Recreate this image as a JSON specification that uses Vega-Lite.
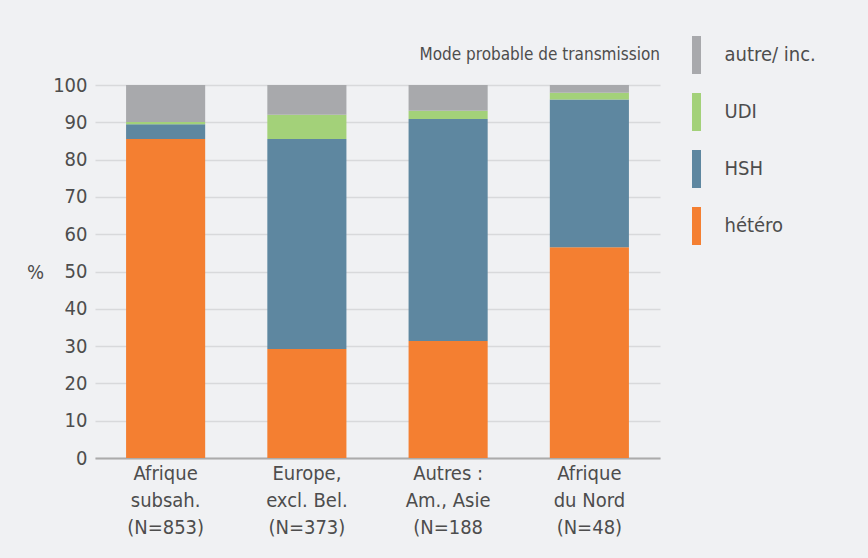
{
  "$schema": "https://vega.github.io/schema/vega-lite/v6.json",
  "autosize": "none",
  "width": 565,
  "height": 373,
  "padding": {"left": 95, "top": 85, "right": 208, "bottom": 100},
  "background": "#F0F1F3",
  "title": {
    "text": "Mode probable de transmission",
    "anchor": "end",
    "frame": "group",
    "baseline": "alphabetic",
    "offset": 23,
    "dy": 64,
    "fontSize": 17,
    "fontWeight": "normal",
    "font": "DejaVu Sans Condensed, sans-serif",
    "color": "#4d4d4d"
  },
  "data": {
    "values": [
      {"region": "Afrique|subsah.|(N=853)", "mode": "hétéro", "k": 1, "pct": 85.5},
      {"region": "Afrique|subsah.|(N=853)", "mode": "HSH", "k": 2, "pct": 4.0},
      {"region": "Afrique|subsah.|(N=853)", "mode": "UDI", "k": 3, "pct": 0.6},
      {"region": "Afrique|subsah.|(N=853)", "mode": "autre/ inc.", "k": 4, "pct": 9.9},
      {"region": "Europe,|excl. Bel.|(N=373)", "mode": "hétéro", "k": 1, "pct": 29.2},
      {"region": "Europe,|excl. Bel.|(N=373)", "mode": "HSH", "k": 2, "pct": 56.3},
      {"region": "Europe,|excl. Bel.|(N=373)", "mode": "UDI", "k": 3, "pct": 6.5},
      {"region": "Europe,|excl. Bel.|(N=373)", "mode": "autre/ inc.", "k": 4, "pct": 8.0},
      {"region": "Autres :|Am., Asie|(N=188", "mode": "hétéro", "k": 1, "pct": 31.4},
      {"region": "Autres :|Am., Asie|(N=188", "mode": "HSH", "k": 2, "pct": 59.5},
      {"region": "Autres :|Am., Asie|(N=188", "mode": "UDI", "k": 3, "pct": 2.2},
      {"region": "Autres :|Am., Asie|(N=188", "mode": "autre/ inc.", "k": 4, "pct": 6.9},
      {"region": "Afrique|du Nord|(N=48)", "mode": "hétéro", "k": 1, "pct": 56.5},
      {"region": "Afrique|du Nord|(N=48)", "mode": "HSH", "k": 2, "pct": 39.6},
      {"region": "Afrique|du Nord|(N=48)", "mode": "UDI", "k": 3, "pct": 1.8},
      {"region": "Afrique|du Nord|(N=48)", "mode": "autre/ inc.", "k": 4, "pct": 2.1}
    ]
  },
  "mark": {"type": "bar"},
  "encoding": {
    "x": {
      "field": "region",
      "type": "nominal",
      "sort": null,
      "scale": {"paddingInner": 0.44, "paddingOuter": 0.22},
      "axis": {
        "title": null,
        "labelAngle": 0,
        "labelExpr": "split(datum.label, '|')",
        "labelBaseline": "top",
        "labelLineHeight": 27,
        "labelPadding": 5,
        "labelFontSize": 20,
        "labelColor": "#4d4d4d",
        "labelFont": "DejaVu Sans Condensed, sans-serif",
        "ticks": false,
        "domain": true,
        "domainColor": "#ababab",
        "domainWidth": 2,
        "grid": false
      }
    },
    "y": {
      "field": "pct",
      "type": "quantitative",
      "stack": "zero",
      "scale": {"domain": [0, 100], "nice": false},
      "axis": {
        "title": "%",
        "titleAngle": 0,
        "titleX": -60,
        "titleY": 187,
        "titleAlign": "center",
        "titleBaseline": "middle",
        "titleFontSize": 20,
        "titleFontWeight": "normal",
        "titleColor": "#4d4d4d",
        "titleFont": "DejaVu Sans Condensed, sans-serif",
        "values": [0, 10, 20, 30, 40, 50, 60, 70, 80, 90, 100],
        "labelFontSize": 20,
        "labelColor": "#4d4d4d",
        "labelFont": "DejaVu Sans Condensed, sans-serif",
        "labelPadding": 8,
        "ticks": false,
        "domain": false,
        "grid": true,
        "gridColor": "#d8d9db",
        "gridWidth": 1.5
      }
    },
    "color": {
      "field": "mode",
      "type": "nominal",
      "scale": {
        "domain": ["autre/ inc.", "UDI", "HSH", "hétéro"],
        "range": ["#A8A9AC", "#A3D179", "#5E87A0", "#F47F31"]
      },
      "legend": {
        "title": null,
        "orient": "none",
        "legendX": 582.5,
        "legendY": -49,
        "padding": 0,
        "symbolType": "M-0.237,-1L0.237,-1L0.237,1L-0.237,1Z",
        "symbolSize": 1444,
        "symbolStrokeWidth": 0,
        "rowPadding": 19,
        "labelOffset": 9,
        "labelFontSize": 20,
        "labelColor": "#4d4d4d",
        "labelFont": "DejaVu Sans Condensed, sans-serif",
        "labelBaseline": "middle"
      }
    },
    "order": {"field": "k", "type": "quantitative", "sort": "ascending"}
  },
  "config": {
    "view": {"stroke": null}
  }
}
